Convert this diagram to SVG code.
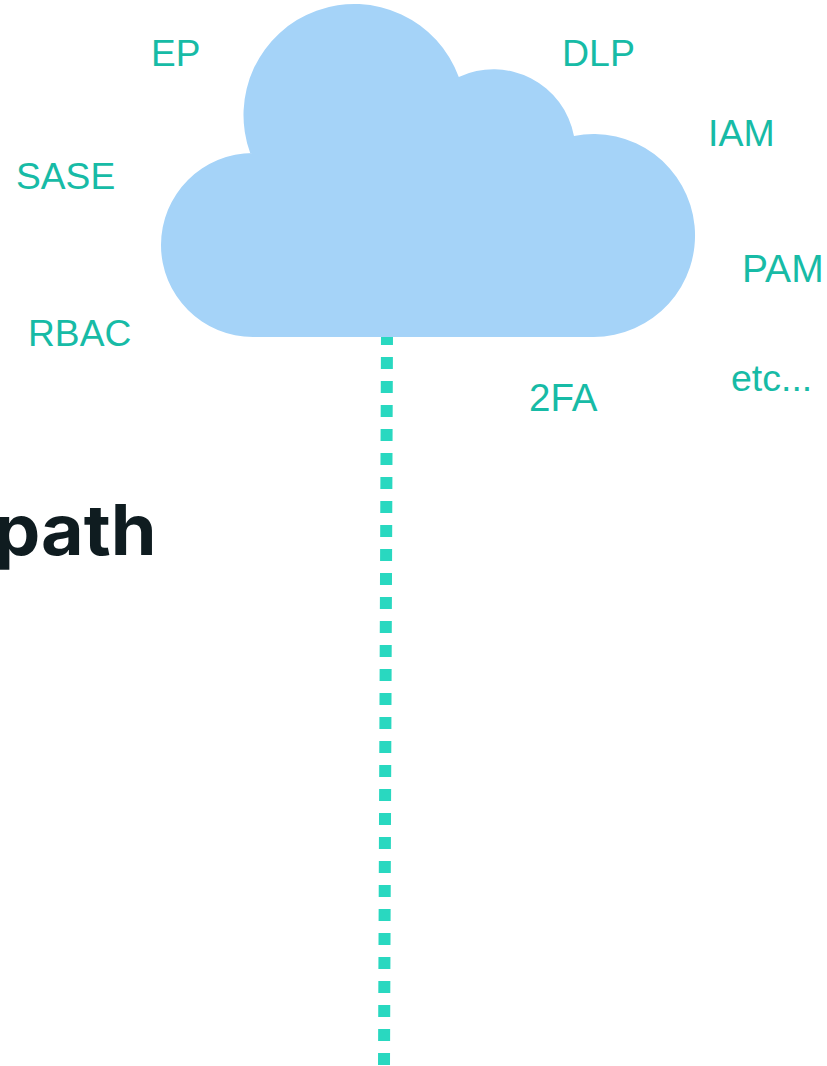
<svg xmlns="http://www.w3.org/2000/svg" width="827" height="1066" viewBox="0 0 827 1066">
<style>
.l{font-family:"Liberation Sans",Arial,sans-serif;font-size:37px;fill:#17bba6}
.h{font-family:Inter,"Liberation Sans",sans-serif;font-size:70px;font-weight:700;fill:#0f1c20}
</style>
<rect width="827" height="1066" fill="#fff"/>
<g id="connectors"><line x1="387" y1="333" x2="384" y2="1066" stroke="#29d8c0" stroke-width="12" stroke-dasharray="12 12"/></g>
<g id="cloud"><path d="M253 337A92 92 0 0 1 253 153L250.200 153A111 111 0 0 1 458.800 77A82 82 0 0 1 574 135.900A101.500 101.500 0 1 1 593.500 337Z" fill="#a5d3f8"/></g>
<g id="ep"><text class="l" x="151" y="66">EP</text></g>
<g id="dlp"><text class="l" x="562" y="65.500" style="font-size:37.500px">DLP</text></g>
<g id="iam"><text class="l" x="708" y="146" style="font-size:37.500px">IAM</text></g>
<g id="sase"><text class="l" x="16" y="189" style="font-size:37.200px">SASE</text></g>
<g id="pam"><text class="l" x="742" y="282" style="font-size:39px">PAM</text></g>
<g id="rbac"><text class="l" x="28" y="346" style="font-size:37.200px">RBAC</text></g>
<g id="etc"><text class="l" x="731" y="391" style="font-size:37.500px">etc...</text></g>
<g id="2fa"><text class="l" x="529" y="411" style="font-size:38.500px">2FA</text></g>
<g id="path"><text class="h" transform="translate(-6 555) scale(1.05 1)">path</text></g>
</svg>
